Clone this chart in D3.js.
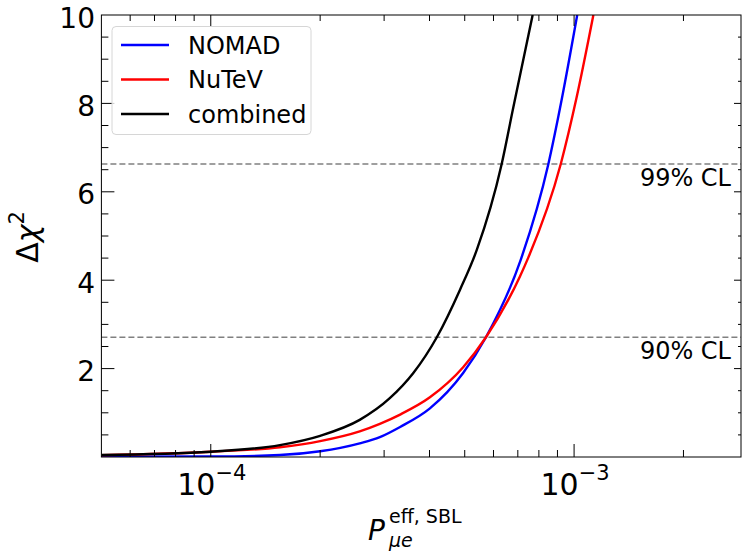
<!DOCTYPE html>
<html>
<head>
<meta charset="utf-8">
<script src="https://cdn.jsdelivr.net/npm/d3@7"></script>
<style>
  body { margin: 0; background: #fff; }
  svg { display: block; font-family: "DejaVu Sans", sans-serif; }
</style>
</head>
<body>
<div id="chart"></div>
<script>
// values (P_mue^eff,SBL vs delta chi^2)
const nomadP    = [5e-5, 1e-4, 1.55e-4, 2e-4, 2.57e-4, 2.92e-4, 3.32e-4, 4.01e-4, 4.95e-4, 5.72e-4, 7.13e-4, 8.49e-4, 9.25e-4, 1.02e-3];
const nomadChi2 = [0.005, 0.01, 0.045, 0.13, 0.31, 0.45, 0.68, 1.10, 1.90, 2.71, 4.46, 6.62, 8.1, 10.0];

const nutevP    = [5e-5, 1e-4, 1.55e-4, 2e-4, 2.57e-4, 2.92e-4, 3.32e-4, 4.01e-4, 4.95e-4, 5.72e-4, 7.10e-4, 7.48e-4, 9.19e-4, 1.017e-3, 1.13e-3];
const nutevChi2 = [0.04, 0.12, 0.22, 0.36, 0.58, 0.75, 0.96, 1.35, 2.03, 2.71, 4.09, 4.51, 6.63, 8.15, 10.0];

const combP    = [5e-5, 1e-4, 1.55e-4, 2e-4, 2.57e-4, 3.11e-4, 3.61e-4, 4.19e-4, 4.85e-4, 5.40e-4, 6.32e-4, 6.80e-4, 7.69e-4];
const combChi2 = [0.045, 0.12, 0.27, 0.48, 0.84, 1.33, 1.90, 2.71, 3.78, 4.69, 6.63, 7.9, 10.0];

const seriesNames = ['NOMAD', 'NuTeV', 'combined'];
const seriesColors = ['#0000ff', '#ff0000', '#000000'];

const clLevels = [2.71, 6.63];
const clLabels = ['90% CL', '99% CL'];

const yTickValues = [2, 4, 6, 8, 10];
const xMajorTicks = [1e-4, 1e-3];
const xMinorTicks = [6e-5, 7e-5, 8e-5, 9e-5, 2e-4, 3e-4, 4e-4, 5e-4, 6e-4, 7e-4, 8e-4, 9e-4, 2e-3];

const W = 743, H = 552;
const mLeft = 101.4, mRight = 741, mTop = 15, mBottom = 457;

const svg = d3.select('#chart').append('svg')
  .attr('width', W)
  .attr('height', H);

const x = d3.scaleLog().domain([5e-5, 2.88e-3]).range([mLeft, mRight]);
const y = d3.scaleLinear().domain([0, 10]).range([mBottom, mTop]);

svg.append('clipPath').attr('id', 'plotclip')
  .append('rect')
  .attr('x', mLeft).attr('y', mTop)
  .attr('width', mRight - mLeft).attr('height', mBottom - mTop);

// confidence level lines
clLevels.forEach((v, i) => {
  svg.append('line')
    .attr('x1', mLeft).attr('x2', mRight)
    .attr('y1', y(v)).attr('y2', y(v))
    .attr('stroke', '#808080')
    .attr('stroke-width', 1.5)
    .attr('stroke-dasharray', '6,3');
  svg.append('text')
    .attr('x', 731)
    .attr('y', y(v) + 22)
    .attr('text-anchor', 'end')
    .attr('font-size', 24)
    .text(clLabels[i]);
});

// curves
const line = d3.line()
  .x(d => x(d[0]))
  .y(d => y(d[1]))
  .curve(d3.curveMonotoneX);

const series = [
  d3.zip(nomadP, nomadChi2),
  d3.zip(nutevP, nutevChi2),
  d3.zip(combP, combChi2)
];

const curves = svg.append('g').attr('clip-path', 'url(#plotclip)');
series.forEach((s, i) => {
  curves.append('path')
    .datum(s)
    .attr('fill', 'none')
    .attr('stroke', seriesColors[i])
    .attr('stroke-width', 2.4)
    .attr('d', line);
});

// frame + ticks
const axes = svg.append('g').attr('stroke', '#000').attr('stroke-width', 1);
axes.append('rect')
  .attr('x', mLeft).attr('y', mTop)
  .attr('width', mRight - mLeft).attr('height', mBottom - mTop)
  .attr('fill', 'none');

xMajorTicks.forEach(t => {
  axes.append('line').attr('x1', x(t)).attr('x2', x(t)).attr('y1', mBottom).attr('y2', mBottom - 13);
  axes.append('line').attr('x1', x(t)).attr('x2', x(t)).attr('y1', mTop).attr('y2', mTop + 11);
});
xMinorTicks.forEach(t => {
  axes.append('line').attr('x1', x(t)).attr('x2', x(t)).attr('y1', mBottom).attr('y2', mBottom - 7);
  axes.append('line').attr('x1', x(t)).attr('x2', x(t)).attr('y1', mTop).attr('y2', mTop + 6);
});

d3.range(0.5, 10, 0.5).forEach(v => {
  const major = Math.abs(v % 2) < 1e-9;
  axes.append('line').attr('x1', mLeft).attr('x2', mLeft + (major ? 13 : 7)).attr('y1', y(v)).attr('y2', y(v));
  axes.append('line').attr('x1', mRight).attr('x2', mRight - (major ? 7 : 3)).attr('y1', y(v)).attr('y2', y(v));
});

// y tick labels
svg.append('g').selectAll('text')
  .data(yTickValues)
  .join('text')
  .attr('x', 95)
  .attr('y', d => y(d) + 12.5)
  .attr('text-anchor', 'end')
  .attr('font-size', 28)
  .text(d => d);

// x tick labels, 10^n
xMajorTicks.forEach(t => {
  const e = Math.round(Math.log10(t));
  const txt = svg.append('text')
    .attr('x', x(t) + 1)
    .attr('y', 495)
    .attr('text-anchor', 'middle')
    .attr('font-size', 30);
  txt.append('tspan').text('10');
  txt.append('tspan').attr('font-size', 21).attr('dy', -15).text('\u2212' + Math.abs(e));
});

// y axis label
const yl = svg.append('text')
  .attr('transform', 'translate(38,237) rotate(-90)')
  .attr('text-anchor', 'middle')
  .attr('font-size', 30);
yl.append('tspan').text('\u0394');
yl.append('tspan').attr('font-style', 'italic').text('\u03c7');
yl.append('tspan').attr('font-size', 21).attr('dy', -14).text('2');

// x axis label
svg.append('text')
  .attr('x', 368).attr('y', 540)
  .attr('font-size', 28)
  .attr('font-style', 'italic')
  .text('P');
svg.append('text')
  .attr('x', 389).attr('y', 523)
  .attr('font-size', 19)
  .text('eff, SBL');
svg.append('text')
  .attr('x', 389).attr('y', 547)
  .attr('font-size', 19)
  .attr('font-style', 'italic')
  .text('\u03bce');

// legend
const lg = svg.append('g');
lg.append('rect')
  .attr('x', 112).attr('y', 26.5)
  .attr('width', 199).attr('height', 108)
  .attr('rx', 4)
  .attr('fill', '#fff')
  .attr('fill-opacity', 0.8)
  .attr('stroke', '#d6d6d6')
  .attr('stroke-width', 1);
seriesNames.forEach((name, i) => {
  const yy = 45 + i * 34.5;
  lg.append('line')
    .attr('x1', 121).attr('x2', 169)
    .attr('y1', yy).attr('y2', yy)
    .attr('stroke', seriesColors[i])
    .attr('stroke-width', 2.4);
  lg.append('text')
    .attr('x', 188).attr('y', yy + 8.5)
    .attr('font-size', 24)
    .text(name);
});
</script>
</body>
</html>
